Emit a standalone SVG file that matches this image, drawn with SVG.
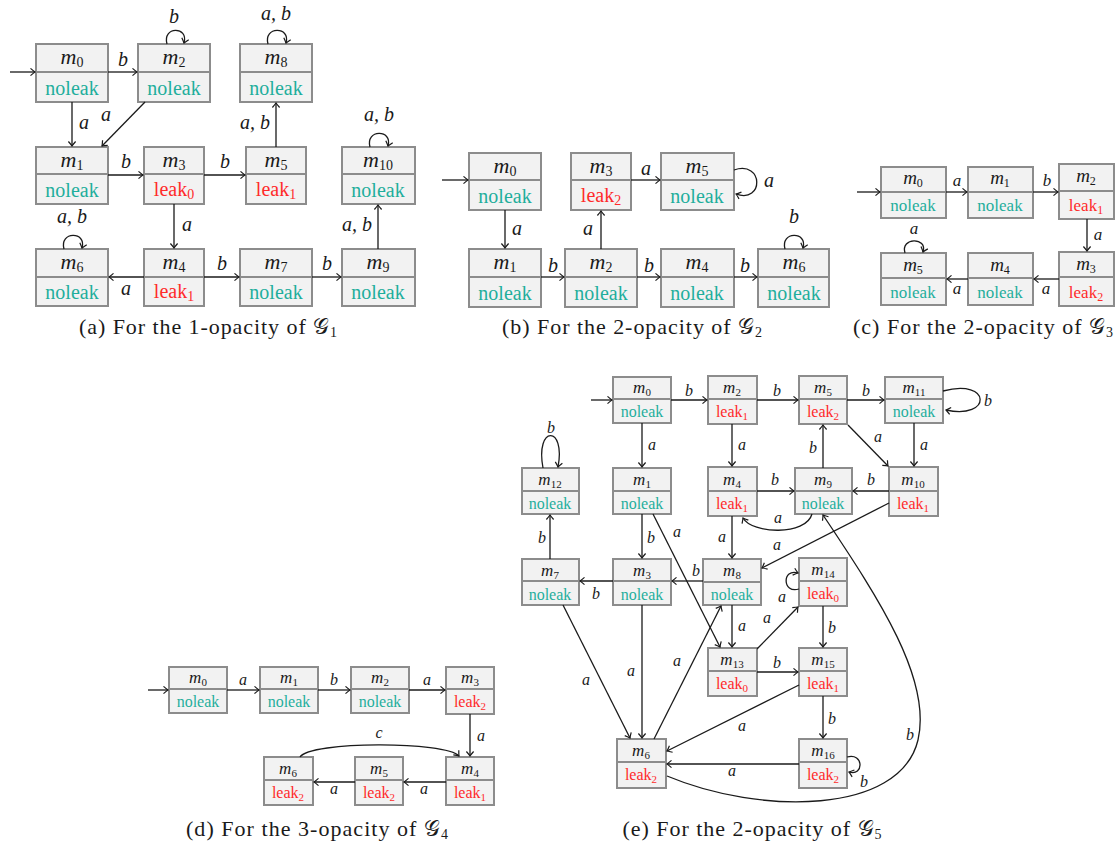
<svg xmlns="http://www.w3.org/2000/svg" width="1117" height="845" viewBox="0 0 1117 845">
<style>
.bx{fill:#f2f2f2;stroke:#8c8c8c;stroke-width:2}
.dv{stroke:#8c8c8c;stroke-width:2}
text{font-family:"Liberation Serif","DejaVu Serif",serif;fill:#1a1a1a}
.m{font-style:italic;text-anchor:middle}
.m tspan.s{font-style:normal}
.n{fill:#1fae9c;text-anchor:middle}
.k{fill:#ff2a2a;text-anchor:middle}
.f1{font-size:20px}.f2{font-size:17px}.f3{font-size:16px}
.m.f1{font-size:22px}.m.f2{font-size:19px}.m.f3{font-size:17px}
.s1{font-size:14px}.s2{font-size:12px}.s3{font-size:11px}
.e{fill:none;stroke:#1a1a1a;stroke-width:1.3;marker-end:url(#ah)}
.lb{font-style:italic;text-anchor:middle}
.cap{font-size:22px;text-anchor:middle}
</style>
<defs>
<marker id="ah" viewBox="-6 -5 7 10" markerWidth="7" markerHeight="10" refX="0" refY="0" orient="auto" markerUnits="userSpaceOnUse">
<path d="M-4.5,-3.6 Q-1.4,-0.9 0,0 Q-1.4,0.9 -4.5,3.6" fill="none" stroke="#1a1a1a" stroke-width="1.2"/>
</marker>
</defs>
<rect width="1117" height="845" fill="#ffffff"/>

<!-- ===== Panel (a) ===== -->
<g id="a-nodes">
<g id="a-m0"><rect class="bx" x="36" y="44" width="72" height="58"/><line class="dv" x1="36" y1="72" x2="108" y2="72"/><text class="m f1" x="72" y="64">m<tspan class="s s1" dy="3">0</tspan></text><text class="n f1" x="72" y="95">noleak</text></g>
<g id="a-m2"><rect class="bx" x="138" y="44" width="72" height="58"/><line class="dv" x1="138" y1="72" x2="210" y2="72"/><text class="m f1" x="174" y="64">m<tspan class="s s1" dy="3">2</tspan></text><text class="n f1" x="174" y="95">noleak</text></g>
<g id="a-m8"><rect class="bx" x="240" y="44" width="72" height="58"/><line class="dv" x1="240" y1="72" x2="312" y2="72"/><text class="m f1" x="276" y="64">m<tspan class="s s1" dy="3">8</tspan></text><text class="n f1" x="276" y="95">noleak</text></g>
<g id="a-m1"><rect class="bx" x="36" y="147" width="72" height="57"/><line class="dv" x1="36" y1="174" x2="108" y2="174"/><text class="m f1" x="72" y="167">m<tspan class="s s1" dy="3">1</tspan></text><text class="n f1" x="72" y="197">noleak</text></g>
<g id="a-m3"><rect class="bx" x="144" y="147" width="60" height="57"/><line class="dv" x1="144" y1="174" x2="204" y2="174"/><text class="m f1" x="174" y="167">m<tspan class="s s1" dy="3">3</tspan></text><text class="k f1" x="174" y="196">leak<tspan class="s1" dy="3">0</tspan></text></g>
<g id="a-m5"><rect class="bx" x="246" y="147" width="60" height="57"/><line class="dv" x1="246" y1="174" x2="306" y2="174"/><text class="m f1" x="276" y="167">m<tspan class="s s1" dy="3">5</tspan></text><text class="k f1" x="276" y="196">leak<tspan class="s1" dy="3">1</tspan></text></g>
<g id="a-m10"><rect class="bx" x="342" y="147" width="73" height="57"/><line class="dv" x1="342" y1="174" x2="415" y2="174"/><text class="m f1" x="378" y="167">m<tspan class="s s1" dy="3">10</tspan></text><text class="n f1" x="378" y="197">noleak</text></g>
<g id="a-m6"><rect class="bx" x="36" y="249" width="72" height="57"/><line class="dv" x1="36" y1="277" x2="108" y2="277"/><text class="m f1" x="72" y="269">m<tspan class="s s1" dy="3">6</tspan></text><text class="n f1" x="72" y="299">noleak</text></g>
<g id="a-m4"><rect class="bx" x="144" y="249" width="60" height="57"/><line class="dv" x1="144" y1="277" x2="204" y2="277"/><text class="m f1" x="174" y="269">m<tspan class="s s1" dy="3">4</tspan></text><text class="k f1" x="174" y="298">leak<tspan class="s1" dy="3">1</tspan></text></g>
<g id="a-m7"><rect class="bx" x="240" y="249" width="72" height="57"/><line class="dv" x1="240" y1="277" x2="312" y2="277"/><text class="m f1" x="276" y="269">m<tspan class="s s1" dy="3">7</tspan></text><text class="n f1" x="276" y="299">noleak</text></g>
<g id="a-m9"><rect class="bx" x="342" y="249" width="73" height="57"/><line class="dv" x1="342" y1="277" x2="415" y2="277"/><text class="m f1" x="378" y="269">m<tspan class="s s1" dy="3">9</tspan></text><text class="n f1" x="378" y="299">noleak</text></g>
</g>
<g id="a-edges">
<path class="e" d="M10,72 H35"/>
<path class="e" d="M108,72 H137"/><text class="lb f1" x="123" y="66">b</text>
<path class="e" d="M167,44 C162,26 189,26 184,43"/><text class="lb f1" x="174" y="23">b</text>
<path class="e" d="M72,102 V146"/><text class="lb f1" x="84" y="129">a</text>
<path class="e" d="M145,102 L102,146"/><text class="lb f1" x="106" y="121">a</text>
<path class="e" d="M108,175 H143"/><text class="lb f1" x="126" y="168">b</text>
<path class="e" d="M204,175 H245"/><text class="lb f1" x="225" y="168">b</text>
<path class="e" d="M276,147 V103"/><text class="lb f1" x="255" y="129">a, b</text>
<path class="e" d="M268,44 C263,26 291,26 286,43"/><text class="lb f1" x="276" y="20">a, b</text>
<path class="e" d="M370,147 C365,129 393,129 388,146"/><text class="lb f1" x="379" y="121">a, b</text>
<path class="e" d="M174,204 V248"/><text class="lb f1" x="187" y="231">a</text>
<path class="e" d="M64,249 C59,231 87,231 82,248"/><text class="lb f1" x="72" y="223">a, b</text>
<path class="e" d="M144,277 H109"/><text class="lb f1" x="126" y="295">a</text>
<path class="e" d="M204,277 H239"/><text class="lb f1" x="222" y="270">b</text>
<path class="e" d="M312,277 H341"/><text class="lb f1" x="327" y="270">b</text>
<path class="e" d="M378,249 V205"/><text class="lb f1" x="357" y="231">a, b</text>
</g>
<text class="cap" x="208" y="334" textLength="258" lengthAdjust="spacing">(a) For the 1-opacity of 𝒢<tspan class="s1" dy="3">1</tspan></text>

<!-- ===== Panel (b) ===== -->
<g id="b-nodes">
<g id="b-m0"><rect class="bx" x="469" y="153" width="72" height="57"/><line class="dv" x1="469" y1="180" x2="541" y2="180"/><text class="m f1" x="505" y="173">m<tspan class="s s1" dy="3">0</tspan></text><text class="n f1" x="505" y="203">noleak</text></g>
<g id="b-m3"><rect class="bx" x="571" y="153" width="60" height="57"/><line class="dv" x1="571" y1="180" x2="631" y2="180"/><text class="m f1" x="601" y="173">m<tspan class="s s1" dy="3">3</tspan></text><text class="k f1" x="601" y="202">leak<tspan class="s1" dy="3">2</tspan></text></g>
<g id="b-m5"><rect class="bx" x="661" y="153" width="73" height="57"/><line class="dv" x1="661" y1="180" x2="734" y2="180"/><text class="m f1" x="697" y="173">m<tspan class="s s1" dy="3">5</tspan></text><text class="n f1" x="697" y="203">noleak</text></g>
<g id="b-m1"><rect class="bx" x="469" y="249" width="72" height="58"/><line class="dv" x1="469" y1="277" x2="541" y2="277"/><text class="m f1" x="505" y="269">m<tspan class="s s1" dy="3">1</tspan></text><text class="n f1" x="505" y="300">noleak</text></g>
<g id="b-m2"><rect class="bx" x="565" y="249" width="72" height="58"/><line class="dv" x1="565" y1="277" x2="637" y2="277"/><text class="m f1" x="601" y="269">m<tspan class="s s1" dy="3">2</tspan></text><text class="n f1" x="601" y="300">noleak</text></g>
<g id="b-m4"><rect class="bx" x="661" y="249" width="73" height="58"/><line class="dv" x1="661" y1="277" x2="734" y2="277"/><text class="m f1" x="697" y="269">m<tspan class="s s1" dy="3">4</tspan></text><text class="n f1" x="697" y="300">noleak</text></g>
<g id="b-m6"><rect class="bx" x="758" y="249" width="71" height="58"/><line class="dv" x1="758" y1="277" x2="829" y2="277"/><text class="m f1" x="794" y="269">m<tspan class="s s1" dy="3">6</tspan></text><text class="n f1" x="794" y="300">noleak</text></g>
</g>
<g id="b-edges">
<path class="e" d="M442,180 H468"/>
<path class="e" d="M505,210 V248"/><text class="lb f1" x="517" y="235">a</text>
<path class="e" d="M541,277 H564"/><text class="lb f1" x="553" y="272">b</text>
<path class="e" d="M601,249 V211"/><text class="lb f1" x="588" y="235">a</text>
<path class="e" d="M631,180 H660"/><text class="lb f1" x="646" y="175">a</text>
<path class="e" d="M734,170 C764,160 764,204 736,194"/><text class="lb f1" x="769" y="187">a</text>
<path class="e" d="M637,277 H660"/><text class="lb f1" x="649" y="272">b</text>
<path class="e" d="M734,277 H757"/><text class="lb f1" x="745" y="272">b</text>
<path class="e" d="M785,249 C780,231 808,231 803,248"/><text class="lb f1" x="794" y="223">b</text>
</g>
<text class="cap" x="632" y="334" textLength="260" lengthAdjust="spacing">(b) For the 2-opacity of 𝒢<tspan class="s1" dy="3">2</tspan></text>

<!-- ===== Panel (c) ===== -->
<g id="c-nodes">
<g id="c-m0"><rect class="bx" x="881" y="167" width="65" height="51"/><line class="dv" x1="881" y1="192" x2="946" y2="192"/><text class="m f2" x="913" y="184">m<tspan class="s s2" dy="3">0</tspan></text><text class="n f2" x="913" y="211">noleak</text></g>
<g id="c-m1"><rect class="bx" x="968" y="167" width="65" height="51"/><line class="dv" x1="968" y1="192" x2="1033" y2="192"/><text class="m f2" x="1000" y="184">m<tspan class="s s2" dy="3">1</tspan></text><text class="n f2" x="1000" y="211">noleak</text></g>
<g id="c-m2"><rect class="bx" x="1059" y="164" width="55" height="55"/><line class="dv" x1="1059" y1="191" x2="1114" y2="191"/><text class="m f2" x="1086" y="182">m<tspan class="s s2" dy="3">2</tspan></text><text class="k f2" x="1086" y="211">leak<tspan class="s2" dy="3">1</tspan></text></g>
<g id="c-m5"><rect class="bx" x="881" y="253" width="65" height="52"/><line class="dv" x1="881" y1="278" x2="946" y2="278"/><text class="m f2" x="913" y="271">m<tspan class="s s2" dy="3">5</tspan></text><text class="n f2" x="913" y="298">noleak</text></g>
<g id="c-m4"><rect class="bx" x="968" y="253" width="65" height="52"/><line class="dv" x1="968" y1="278" x2="1033" y2="278"/><text class="m f2" x="1000" y="271">m<tspan class="s s2" dy="3">4</tspan></text><text class="n f2" x="1000" y="298">noleak</text></g>
<g id="c-m3"><rect class="bx" x="1059" y="252" width="55" height="54"/><line class="dv" x1="1059" y1="277" x2="1114" y2="277"/><text class="m f2" x="1086" y="270">m<tspan class="s s2" dy="3">3</tspan></text><text class="k f2" x="1086" y="298">leak<tspan class="s2" dy="3">2</tspan></text></g>
</g>
<g id="c-edges">
<path class="e" d="M857,192 H880"/>
<path class="e" d="M946,192 H967"/><text class="lb f2" x="957" y="186">a</text>
<path class="e" d="M1033,192 H1058"/><text class="lb f2" x="1047" y="186">b</text>
<path class="e" d="M1087,219 V251"/><text class="lb f2" x="1098" y="240">a</text>
<path class="e" d="M1059,279 H1034"/><text class="lb f2" x="1046" y="294">a</text>
<path class="e" d="M968,279 H947"/><text class="lb f2" x="957" y="294">a</text>
<path class="e" d="M905,253 C900,237 928,237 923,252"/><text class="lb f2" x="914" y="234">a</text>
</g>
<text class="cap" x="983" y="334" textLength="260" lengthAdjust="spacing">(c) For the 2-opacity of 𝒢<tspan class="s1" dy="3">3</tspan></text>

<!-- ===== Panel (d) ===== -->
<g id="d-nodes">
<g id="d-m0"><rect class="bx" x="169" y="667" width="58" height="46"/><line class="dv" x1="169" y1="689" x2="227" y2="689"/><text class="m f3" x="198" y="683">m<tspan class="s s3" dy="3">0</tspan></text><text class="n f3" x="198" y="707">noleak</text></g>
<g id="d-m1"><rect class="bx" x="260" y="667" width="58" height="46"/><line class="dv" x1="260" y1="689" x2="318" y2="689"/><text class="m f3" x="289" y="683">m<tspan class="s s3" dy="3">1</tspan></text><text class="n f3" x="289" y="707">noleak</text></g>
<g id="d-m2"><rect class="bx" x="351" y="667" width="58" height="46"/><line class="dv" x1="351" y1="689" x2="409" y2="689"/><text class="m f3" x="380" y="683">m<tspan class="s s3" dy="3">2</tspan></text><text class="n f3" x="380" y="707">noleak</text></g>
<g id="d-m3"><rect class="bx" x="446" y="667" width="48" height="47"/><line class="dv" x1="446" y1="689" x2="494" y2="689"/><text class="m f3" x="470" y="683">m<tspan class="s s3" dy="3">3</tspan></text><text class="k f3" x="470" y="707">leak<tspan class="s3" dy="3">2</tspan></text></g>
<g id="d-m6"><rect class="bx" x="264" y="757" width="49" height="48"/><line class="dv" x1="264" y1="780" x2="313" y2="780"/><text class="m f3" x="288" y="774">m<tspan class="s s3" dy="3">6</tspan></text><text class="k f3" x="288" y="798">leak<tspan class="s3" dy="3">2</tspan></text></g>
<g id="d-m5"><rect class="bx" x="355" y="757" width="48" height="48"/><line class="dv" x1="355" y1="780" x2="403" y2="780"/><text class="m f3" x="379" y="774">m<tspan class="s s3" dy="3">5</tspan></text><text class="k f3" x="379" y="798">leak<tspan class="s3" dy="3">2</tspan></text></g>
<g id="d-m4"><rect class="bx" x="446" y="757" width="48" height="48"/><line class="dv" x1="446" y1="780" x2="494" y2="780"/><text class="m f3" x="470" y="774">m<tspan class="s s3" dy="3">4</tspan></text><text class="k f3" x="470" y="798">leak<tspan class="s3" dy="3">1</tspan></text></g>
</g>
<g id="d-edges">
<path class="e" d="M148,690 H168"/>
<path class="e" d="M227,690 H259"/><text class="lb f3" x="243" y="685">a</text>
<path class="e" d="M318,690 H350"/><text class="lb f3" x="334" y="685">b</text>
<path class="e" d="M409,690 H445"/><text class="lb f3" x="427" y="685">a</text>
<path class="e" d="M470,714 V756"/><text class="lb f3" x="481" y="741">a</text>
<path class="e" d="M446,782 H404"/><text class="lb f3" x="424" y="794">a</text>
<path class="e" d="M355,782 H314"/><text class="lb f3" x="334" y="794">a</text>
<path class="e" d="M300,757 C310,741 446,741 459,756"/><text class="lb f3" x="379" y="738">c</text>
</g>
<text class="cap" x="317" y="836" textLength="262" lengthAdjust="spacing">(d) For the 3-opacity of 𝒢<tspan class="s1" dy="3">4</tspan></text>

<!-- ===== Panel (e) ===== -->
<g id="e-nodes">
<g id="e-m0"><rect class="bx" x="613" y="377" width="58" height="46"/><line class="dv" x1="613" y1="399" x2="671" y2="399"/><text class="m f3" x="642" y="393">m<tspan class="s s3" dy="3">0</tspan></text><text class="n f3" x="642" y="417">noleak</text></g>
<g id="e-m2"><rect class="bx" x="708" y="376" width="49" height="48"/><line class="dv" x1="708" y1="399" x2="757" y2="399"/><text class="m f3" x="732" y="393">m<tspan class="s s3" dy="3">2</tspan></text><text class="k f3" x="732" y="417">leak<tspan class="s3" dy="3">1</tspan></text></g>
<g id="e-m5"><rect class="bx" x="799" y="376" width="48" height="48"/><line class="dv" x1="799" y1="399" x2="847" y2="399"/><text class="m f3" x="823" y="393">m<tspan class="s s3" dy="3">5</tspan></text><text class="k f3" x="823" y="417">leak<tspan class="s3" dy="3">2</tspan></text></g>
<g id="e-m11"><rect class="bx" x="885" y="377" width="58" height="46"/><line class="dv" x1="885" y1="399" x2="943" y2="399"/><text class="m f3" x="914" y="393">m<tspan class="s s3" dy="3">11</tspan></text><text class="n f3" x="914" y="417">noleak</text></g>
<g id="e-m12"><rect class="bx" x="522" y="468" width="57" height="46"/><line class="dv" x1="522" y1="491" x2="579" y2="491"/><text class="m f3" x="550" y="485">m<tspan class="s s3" dy="3">12</tspan></text><text class="n f3" x="550" y="509">noleak</text></g>
<g id="e-m1"><rect class="bx" x="613" y="468" width="58" height="46"/><line class="dv" x1="613" y1="491" x2="671" y2="491"/><text class="m f3" x="642" y="485">m<tspan class="s s3" dy="3">1</tspan></text><text class="n f3" x="642" y="509">noleak</text></g>
<g id="e-m4"><rect class="bx" x="708" y="467" width="49" height="49"/><line class="dv" x1="708" y1="491" x2="757" y2="491"/><text class="m f3" x="732" y="485">m<tspan class="s s3" dy="3">4</tspan></text><text class="k f3" x="732" y="509">leak<tspan class="s3" dy="3">1</tspan></text></g>
<g id="e-m9"><rect class="bx" x="795" y="468" width="57" height="46"/><line class="dv" x1="795" y1="491" x2="852" y2="491"/><text class="m f3" x="823" y="485">m<tspan class="s s3" dy="3">9</tspan></text><text class="n f3" x="823" y="509">noleak</text></g>
<g id="e-m10"><rect class="bx" x="889" y="467" width="49" height="49"/><line class="dv" x1="889" y1="491" x2="938" y2="491"/><text class="m f3" x="913" y="485">m<tspan class="s s3" dy="3">10</tspan></text><text class="k f3" x="913" y="509">leak<tspan class="s3" dy="3">1</tspan></text></g>
<g id="e-m7"><rect class="bx" x="522" y="559" width="57" height="46"/><line class="dv" x1="522" y1="581" x2="579" y2="581"/><text class="m f3" x="550" y="576">m<tspan class="s s3" dy="3">7</tspan></text><text class="n f3" x="550" y="600">noleak</text></g>
<g id="e-m3"><rect class="bx" x="613" y="559" width="58" height="46"/><line class="dv" x1="613" y1="581" x2="671" y2="581"/><text class="m f3" x="642" y="576">m<tspan class="s s3" dy="3">3</tspan></text><text class="n f3" x="642" y="600">noleak</text></g>
<g id="e-m8"><rect class="bx" x="703" y="559" width="58" height="46"/><line class="dv" x1="703" y1="582" x2="761" y2="582"/><text class="m f3" x="732" y="576">m<tspan class="s s3" dy="3">8</tspan></text><text class="n f3" x="732" y="600">noleak</text></g>
<g id="e-m14"><rect class="bx" x="799" y="558" width="48" height="48"/><line class="dv" x1="799" y1="581" x2="847" y2="581"/><text class="m f3" x="823" y="575">m<tspan class="s s3" dy="3">14</tspan></text><text class="k f3" x="823" y="599">leak<tspan class="s3" dy="3">0</tspan></text></g>
<g id="e-m13"><rect class="bx" x="708" y="648" width="49" height="48"/><line class="dv" x1="708" y1="671" x2="757" y2="671"/><text class="m f3" x="732" y="665">m<tspan class="s s3" dy="3">13</tspan></text><text class="k f3" x="732" y="689">leak<tspan class="s3" dy="3">0</tspan></text></g>
<g id="e-m15"><rect class="bx" x="799" y="648" width="48" height="48"/><line class="dv" x1="799" y1="671" x2="847" y2="671"/><text class="m f3" x="823" y="665">m<tspan class="s s3" dy="3">15</tspan></text><text class="k f3" x="823" y="689">leak<tspan class="s3" dy="3">1</tspan></text></g>
<g id="e-m6"><rect class="bx" x="617" y="739" width="49" height="49"/><line class="dv" x1="617" y1="762" x2="666" y2="762"/><text class="m f3" x="641" y="756">m<tspan class="s s3" dy="3">6</tspan></text><text class="k f3" x="641" y="780">leak<tspan class="s3" dy="3">2</tspan></text></g>
<g id="e-m16"><rect class="bx" x="799" y="739" width="48" height="49"/><line class="dv" x1="799" y1="762" x2="847" y2="762"/><text class="m f3" x="823" y="756">m<tspan class="s s3" dy="3">16</tspan></text><text class="k f3" x="823" y="780">leak<tspan class="s3" dy="3">2</tspan></text></g>
</g>
<g id="e-edges">
<path class="e" d="M591,400 H612"/>
<path class="e" d="M671,400 H707"/><text class="lb f3" x="689" y="396">b</text>
<path class="e" d="M757,400 H798"/><text class="lb f3" x="777" y="396">b</text>
<path class="e" d="M847,400 H884"/><text class="lb f3" x="866" y="396">b</text>
<path class="e" d="M943,391 C992,378 992,420 946,410"/><text class="lb f3" x="988" y="406">b</text>
<path class="e" d="M914,423 V466"/><text class="lb f3" x="924" y="450">a</text>
<path class="e" d="M848,425 L888,466"/><text class="lb f3" x="878" y="442">a</text>
<path class="e" d="M889,491 H853"/><text class="lb f3" x="871" y="485">b</text>
<path class="e" d="M823,468 V425"/><text class="lb f3" x="813" y="453">b</text>
<path class="e" d="M642,423 V467"/><text class="lb f3" x="652" y="450">a</text>
<path class="e" d="M732,424 V466"/><text class="lb f3" x="742" y="450">a</text>
<path class="e" d="M757,491 H794"/><text class="lb f3" x="775" y="485">b</text>
<path class="e" d="M812,514 C806,536 752,534 743,518"/><text class="lb f3" x="778" y="523">a</text>
<path class="e" d="M732,516 V558"/><text class="lb f3" x="722" y="542">a</text>
<path class="e" d="M889,503 L762,568"/><text class="lb f3" x="777" y="550">a</text>
<path class="e" d="M543,468 C535,425 566,425 558,467"/><text class="lb f3" x="551" y="433">b</text>
<path class="e" d="M550,559 V515"/><text class="lb f3" x="542" y="543">b</text>
<path class="e" d="M642,514 V558"/><text class="lb f3" x="651" y="543">b</text>
<path class="e" d="M613,581 H580"/><text class="lb f3" x="596" y="599">b</text>
<path class="e" d="M703,581 H672"/><text class="lb f3" x="696" y="576">b</text>
<path class="e" d="M653,514 L720,647"/><text class="lb f3" x="677" y="537">a</text>
<path class="e" d="M732,605 V647"/><text class="lb f3" x="742" y="631">a</text>
<path class="e" d="M757,649 L798,607"/><text class="lb f3" x="767" y="623">a</text>
<path class="e" d="M799,589 C782,594 782,568 798,573"/><text class="lb f3" x="782" y="602">a</text>
<path class="e" d="M823,606 V647"/><text class="lb f3" x="832" y="633">b</text>
<path class="e" d="M757,672 H798"/><text class="lb f3" x="777" y="668">b</text>
<path class="e" d="M823,696 V738"/><text class="lb f3" x="832" y="724">b</text>
<path class="e" d="M847,757 C864,752 864,777 849,772"/><text class="lb f3" x="864" y="787">b</text>
<path class="e" d="M799,764 H667"/><text class="lb f3" x="732" y="776">a</text>
<path class="e" d="M799,685 L667,751"/><text class="lb f3" x="742" y="731">a</text>
<path class="e" d="M642,605 V738"/><text class="lb f3" x="631" y="676">a</text>
<path class="e" d="M563,605 L630,738"/><text class="lb f3" x="586" y="685">a</text>
<path class="e" d="M654,739 L721,606"/><text class="lb f3" x="677" y="666">a</text>
<path class="e" d="M667,776 C760,815 900,815 918,740 C932,680 880,600 823,515"/><text class="lb f3" x="910" y="740">b</text>
</g>
<text class="cap" x="752" y="836" textLength="259" lengthAdjust="spacing">(e) For the 2-opacity of 𝒢<tspan class="s1" dy="3">5</tspan></text>
</svg>
